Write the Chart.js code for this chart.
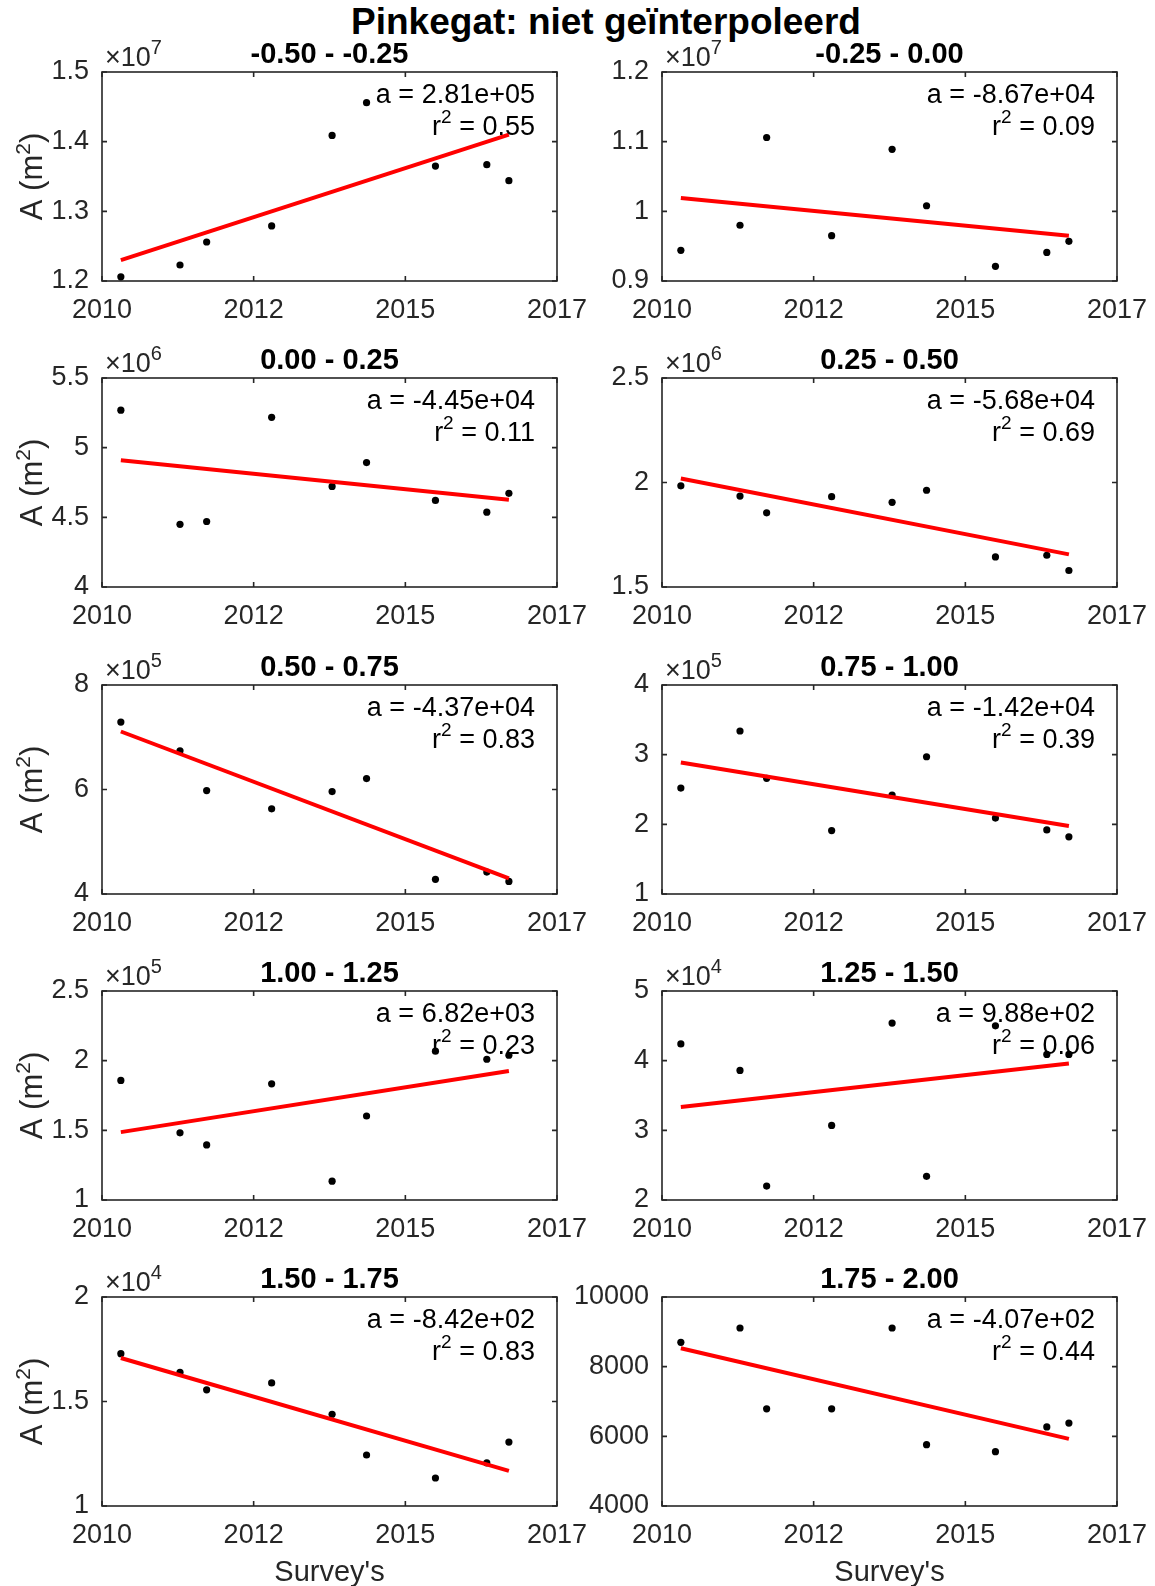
<!DOCTYPE html>
<html>
<head>
<meta charset="utf-8">
<script src="https://cdn.jsdelivr.net/npm/chart.js@4.4.0/dist/chart.umd.min.js"></script>
<style>
    html, body { margin: 0; padding: 0; background: #fff; }
    #fig { position: relative; width: 1155px; height: 1586px; overflow: hidden; background: #fff; }
    #fig canvas { position: absolute; }
    #mainTitle {
        position: absolute; left: 0; top: 3px; width: 1212px;
        text-align: center; font: bold 37px "Liberation Sans", Arial, Helvetica, sans-serif;
        line-height: 37px; color: #000; white-space: nowrap;
    }
</style>
</head>
<body>
<div id="fig">
    <div id="mainTitle">Pinkegat: niet geïnterpoleerd</div>
</div>
<script>
// survey dates (decimal years) shared by every panel
const surveyYears = [2010.29, 2011.20, 2011.61, 2012.61, 2013.54, 2014.07, 2015.13, 2015.92, 2016.26];
const xTickValues = [2010, 2012.333, 2014.667, 2017];
const xTickLabels = ['2010', '2012', '2015', '2017'];

const binTitles = ['-0.50 - -0.25', '-0.25 - 0.00', '0.00 - 0.25', '0.25 - 0.50', '0.50 - 0.75',
    '0.75 - 1.00', '1.00 - 1.25', '1.25 - 1.50', '1.50 - 1.75', '1.75 - 2.00'];

// area per depth bin (m2), one value per survey
const areaBin1 = [1.206e7, 1.223e7, 1.256e7, 1.279e7, 1.409e7, 1.456e7, 1.365e7, 1.367e7, 1.344e7];
const areaBin2 = [9.44e6, 9.80e6, 1.106e7, 9.65e6, 1.089e7, 1.008e7, 9.21e6, 9.41e6, 9.57e6];
const areaBin3 = [5.269e6, 4.450e6, 4.470e6, 5.218e6, 4.722e6, 4.893e6, 4.621e6, 4.537e6, 4.672e6];
const areaBin4 = [1.984e6, 1.935e6, 1.855e6, 1.932e6, 1.905e6, 1.963e6, 1.644e6, 1.652e6, 1.579e6];
const areaBin5 = [7.29e5, 6.74e5, 5.98e5, 5.63e5, 5.96e5, 6.21e5, 4.28e5, 4.42e5, 4.24e5];
const areaBin6 = [2.52e5, 3.34e5, 2.66e5, 1.91e5, 2.42e5, 2.97e5, 2.09e5, 1.92e5, 1.82e5];
const areaBin7 = [1.858e5, 1.482e5, 1.395e5, 1.834e5, 1.135e5, 1.603e5, 2.068e5, 2.010e5, 2.039e5];
const areaBin8 = [4.24e4, 3.86e4, 2.20e4, 3.07e4, 4.54e4, 2.34e4, 4.50e4, 4.09e4, 4.09e4];
const areaBin9 = [1.729e4, 1.640e4, 1.556e4, 1.589e4, 1.439e4, 1.244e4, 1.134e4, 1.206e4, 1.306e4];
const areaBin10 = [8700, 9110, 6790, 6790, 9110, 5760, 5560, 6270, 6380];

// fitted trend line, value at first and last survey
const trendEnds = [[1.230e7, 1.410e7], [1.019e7, 9.65e6], [4.910e6, 4.626e6], [2.019e6, 1.656e6],
    [7.11e5, 4.30e5], [2.887e5, 1.977e5], [1.487e5, 1.926e5], [3.336e4, 3.958e4],
    [1.708e4, 1.168e4], [8529, 5926]];

const slopeLabels = ['2.81e+05', '-8.67e+04', '-4.45e+04', '-5.68e+04', '-4.37e+04',
    '-1.42e+04', '6.82e+03', '9.88e+02', '-8.42e+02', '-4.07e+02'];
const r2Labels = ['0.55', '0.09', '0.11', '0.69', '0.83', '0.39', '0.23', '0.06', '0.83', '0.44'];

const yTicks = [[1.2e7, 1.3e7, 1.4e7, 1.5e7], [0.9e7, 1.0e7, 1.1e7, 1.2e7], [4e6, 4.5e6, 5e6, 5.5e6],
    [1.5e6, 2e6, 2.5e6], [4e5, 6e5, 8e5], [1e5, 2e5, 3e5, 4e5], [1e5, 1.5e5, 2e5, 2.5e5],
    [2e4, 3e4, 4e4, 5e4], [1e4, 1.5e4, 2e4], [4000, 6000, 8000, 10000]];
const yExponents = [7, 7, 6, 6, 5, 5, 5, 4, 4, 0];

const panelAreas = [areaBin1, areaBin2, areaBin3, areaBin4, areaBin5, areaBin6, areaBin7, areaBin8, areaBin9, areaBin10];

// layout
const FONT = '"Liberation Sans", Arial, Helvetica, sans-serif';
const AXIS_COLOR = '#262626';
const PLOT_W = 455, PLOT_H = 209;
const PAD_L = 100, PAD_R = 60, PAD_T = 80, PAD_B = 92;
const colLeft = [102, 662];
const rowTop = [72, 378, 685, 991, 1297];

function fmtTick(v, exp)
{
    const scaled = v / Math.pow(10, exp);
    return String(parseFloat(scaled.toFixed(3)));
}

function drawSupText(ctx, parts, x, y, align)
{
    // parts: [{t, size, sup}] ; raised superscripts
    const fontOf = p => p.size + 'px ' + FONT;
    const widths = parts.map(p =>
    {
        ctx.font = fontOf(p);
        return ctx.measureText(p.t).width;
    });
    const total = widths.reduce((a, b) => a + b, 0);
    let cx = align === 'right' ? x - total : (align === 'center' ? x - total / 2 : x);
    ctx.textAlign = 'left';
    ctx.textBaseline = 'alphabetic';
    parts.forEach((p, k) =>
    {
        ctx.font = fontOf(p);
        ctx.fillText(p.t, cx, p.sup ? y - 12 : y);
        cx += widths[k];
    });
}

function makePanel(i)
{
    const col = i % 2;
    const row = Math.floor(i / 2);
    const fig = document.getElementById('fig');
    const canvas = document.createElement('canvas');
    canvas.width = PAD_L + PLOT_W + PAD_R;
    canvas.height = PAD_T + PLOT_H + PAD_B;
    canvas.style.left = (colLeft[col] - PAD_L) + 'px';
    canvas.style.top = (rowTop[row] - PAD_T) + 'px';
    fig.appendChild(canvas);

    const vals = panelAreas[i];
    const ticks = yTicks[i];
    const exp = yExponents[i];
    const last = surveyYears.length - 1;

    const decor = {
        id: 'decor',
        beforeDatasetsDraw(chart)
        {
            const { ctx, chartArea: a, scales } = chart;
            ctx.save();
            ctx.strokeStyle = AXIS_COLOR;
            ctx.lineWidth = 1.6;
            ctx.strokeRect(a.left, a.top, a.right - a.left, a.bottom - a.top);
            ctx.beginPath();
            xTickValues.forEach(v =>
            {
                const px = scales.x.getPixelForValue(v);
                ctx.moveTo(px, a.bottom); ctx.lineTo(px, a.bottom - 5);
                ctx.moveTo(px, a.top); ctx.lineTo(px, a.top + 5);
            });
            ticks.forEach(v =>
            {
                const py = scales.y.getPixelForValue(v);
                ctx.moveTo(a.left, py); ctx.lineTo(a.left + 5, py);
                ctx.moveTo(a.right, py); ctx.lineTo(a.right - 5, py);
            });
            ctx.stroke();
            ctx.restore();
        },
        afterDatasetsDraw(chart)
        {
            const { ctx, chartArea: a } = chart;
            ctx.save();
            // panel title
            ctx.fillStyle = '#000';
            ctx.font = 'bold 29px ' + FONT;
            ctx.textAlign = 'center';
            ctx.textBaseline = 'alphabetic';
            ctx.fillText(binTitles[i], (a.left + a.right) / 2, a.top - 9);

            // exponent
            if (exp !== 0)
            {
                ctx.fillStyle = AXIS_COLOR;
                drawSupText(ctx, [{ t: '×10', size: 27 }, { t: String(exp), size: 20, sup: true }], a.left + 3, a.top - 6, 'left');
            }

            // fit annotation
            ctx.fillStyle = '#000';
            drawSupText(ctx, [{ t: 'a = ' + slopeLabels[i], size: 27 }], a.right - 22, a.top + 31, 'right');
            drawSupText(ctx, [{ t: 'r', size: 27 }, { t: '2', size: 19, sup: true }, { t: ' = ' + r2Labels[i], size: 27 }],
                a.right - 22, a.top + 63, 'right');

            // axis labels
            ctx.fillStyle = AXIS_COLOR;
            if (col === 0)
            {
                ctx.save();
                ctx.translate(a.left - 60, (a.top + a.bottom) / 2);
                ctx.rotate(-Math.PI / 2);
                drawSupText(ctx, [{ t: 'A (m', size: 31 }, { t: '2', size: 21, sup: true }, { t: ')', size: 31 }], 0, 0, 'center');
                ctx.restore();
            }
            if (row === 4)
            {
                ctx.font = '29px ' + FONT;
                ctx.textAlign = 'center';
                ctx.fillText("Survey's", (a.left + a.right) / 2, a.bottom + 75);
            }
            ctx.restore();
        }
    };

    return new Chart(canvas, {
        type: 'scatter',
        data: {
            datasets: [
                {
                    data: [{ x: surveyYears[0], y: trendEnds[i][0] }, { x: surveyYears[last], y: trendEnds[i][1] }],
                    showLine: true,
                    borderColor: '#ff0000',
                    borderWidth: 4,
                    pointRadius: 0,
                    order: 0
                },
                {
                    data: surveyYears.map((x, k) => ({ x: x, y: vals[k] })),
                    backgroundColor: '#000',
                    borderColor: '#000',
                    pointRadius: 3.6,
                    borderWidth: 0,
                    order: 1
                }
            ]
        },
        options: {
            responsive: false,
            animation: false,
            devicePixelRatio: 1,
            events: [],
            layout: { padding: { top: PAD_T, right: PAD_R, left: 0, bottom: 0 } },
            plugins: {
                legend: { display: false },
                tooltip: { enabled: false },
                title: { display: false }
            },
            scales: {
                x: {
                    type: 'linear',
                    min: xTickValues[0],
                    max: xTickValues[xTickValues.length - 1],
                    afterBuildTicks: s => { s.ticks = xTickValues.map(v => ({ value: v })); },
                    afterFit: s => { s.height = PAD_B; },
                    grid: { display: false },
                    border: { display: false },
                    ticks: {
                        autoSkip: false,
                        maxRotation: 0,
                        padding: 5,
                        color: AXIS_COLOR,
                        font: { family: FONT, size: 27 },
                        callback: (v, k) => xTickLabels[k]
                    }
                },
                y: {
                    type: 'linear',
                    min: ticks[0],
                    max: ticks[ticks.length - 1],
                    afterBuildTicks: s => { s.ticks = ticks.map(v => ({ value: v })); },
                    afterFit: s => { s.width = PAD_L; },
                    grid: { display: false },
                    border: { display: false },
                    ticks: {
                        padding: 5,
                        color: AXIS_COLOR,
                        font: { family: FONT, size: 27 },
                        callback: v => fmtTick(v, exp)
                    }
                }
            }
        },
        plugins: [decor]
    });
}

for (let i = 0; i < panelAreas.length; i++)
{
    makePanel(i);
}
</script>
</body>
</html>
